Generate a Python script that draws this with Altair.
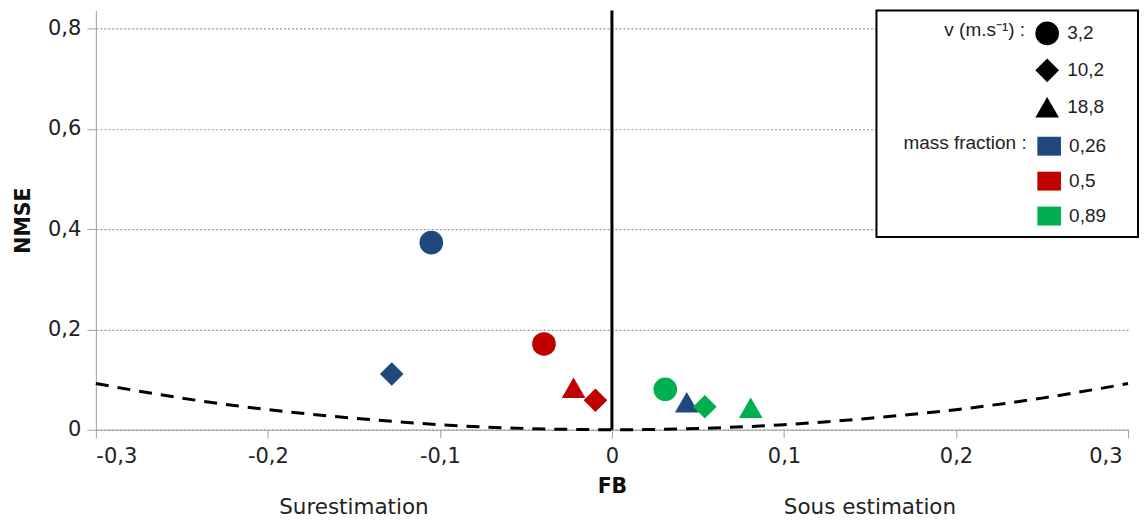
import altair as alt
import pandas as pd

# ---- data ----
fb = [-0.105, -0.128, 0.0435, -0.0395, -0.0096, -0.0223, 0.031, 0.054, 0.0807]
nmse = [0.373, 0.111, 0.0547, 0.171, 0.0587, 0.0836, 0.0806, 0.0458, 0.0438]
velocity = ["3,2", "10,2", "18,8", "3,2", "10,2", "18,8", "3,2", "10,2", "18,8"]
mass_fraction = ["0,26", "0,26", "0,26", "0,5", "0,5", "0,5", "0,89", "0,89", "0,89"]

velocity_levels = ["3,2", "10,2", "18,8"]
shape_range = ["circle", "diamond", "triangle-up"]
mass_levels = ["0,26", "0,5", "0,89"]
mass_colors = ["#1f497d", "#c00000", "#00b050"]

curve_fb = [-0.3, -0.25, -0.2, -0.15, -0.1, -0.05, 0, 0.05, 0.1, 0.15, 0.2, 0.25, 0.3]
curve_nmse = [0.092, 0.063, 0.040, 0.023, 0.010, 0.0025, 0, 0.0025, 0.010, 0.023, 0.040, 0.063, 0.092]

note_fb = [-0.15, 0.15]
note_text = ["Surestimation", "Sous estimation"]

x_ticks = [-0.3, -0.2, -0.1, 0, 0.1, 0.2, 0.3]
y_ticks = [0, 0.2, 0.4, 0.6, 0.8]

W, H = 1034, 420

points_df = pd.DataFrame(dict(FB=fb, NMSE=nmse, v=velocity, mf=mass_fraction))
curve_df = pd.DataFrame(dict(FB=curve_fb, NMSE=curve_nmse))
notes_df = pd.DataFrame(dict(FB=note_fb, label=note_text))
zero_df = pd.DataFrame(dict(FB=[0]))
box_df = pd.DataFrame(dict(a=[0]))

x_scale = alt.Scale(domain=[-0.3, 0.3], nice=False, zero=False)
y_scale = alt.Scale(domain=[0, 0.836], nice=False)
label_expr = "replace('' + datum.value, '.', ',')"

AX_FONT = "DejaVu Sans"
LEG_FONT = "Liberation Sans"
TICK_FS = 21
NOTE_FS = 21.5
TITLE_FS = 20.5
LEG_FS = 19

x_axis = alt.Axis(values=x_ticks, labelExpr=label_expr, title="FB", grid=False,
                  domainColor="#a0a0a0", tickColor="#a0a0a0", tickSize=8,
                  labelPadding=8, labelFontSize=TICK_FS, labelFont=AX_FONT, labelColor="#222",
                  labelOffset=alt.condition("datum.value > 0.25", alt.value(-6), alt.value(0)),
                  titleFont=AX_FONT, titleFontSize=TITLE_FS, titleFontWeight="bold",
                  titleColor="#111", titlePadding=10)
y_axis = alt.Axis(values=y_ticks, labelExpr=label_expr, title="NMSE", grid=True,
                  gridDash=[2, 2], gridColor="#9a9a9a", gridWidth=1.2,
                  domainColor="#a0a0a0", tickColor="#a0a0a0", tickSize=9,
                  labelPadding=6, labelFontSize=TICK_FS, labelFont=AX_FONT, labelColor="#222",
                  titleFont=AX_FONT, titleFontSize=TITLE_FS, titleFontWeight="bold",
                  titleColor="#111", titlePadding=14)

curve = alt.Chart(curve_df).mark_line(
    color="black", strokeWidth=3, strokeDash=[13, 9], interpolate="monotone"
).encode(
    x=alt.X("FB:Q", scale=x_scale, axis=x_axis),
    y=alt.Y("NMSE:Q", scale=y_scale, axis=y_axis),
)

zero_rule = alt.Chart(zero_df).mark_rule(color="black", strokeWidth=3).encode(
    x=alt.X("FB:Q", scale=x_scale)
)

box = alt.Chart(box_df).mark_rect(fill="white", stroke="black", strokeWidth=2).encode(
    x=alt.value(782), x2=alt.value(1044), y=alt.value(0), y2=alt.value(227)
)

common_legend = dict(
    orient="none", titleOrient="left", titleAnchor="start", titleBaseline="top",
    symbolSize=560, rowPadding=13, labelOffset=8, padding=0, symbolStrokeWidth=0,
    labelFont=LEG_FONT, labelFontSize=LEG_FS, labelColor="#222",
    titleFont=LEG_FONT, titleFontSize=LEG_FS, titleFontWeight="normal", titleColor="#222",
    titlePadding=10,
)

shape_legend = alt.Legend(
    title="v (m.s⁻¹) :", legendX=850, legendY=11,
    symbolFillColor="black", symbolStrokeColor="black", **common_legend,
)
color_legend = alt.Legend(
    title="mass fraction :", legendX=809, legendY=124,
    symbolType="M-1,-0.8H1V0.8H-1Z", **common_legend,
)

points = alt.Chart(points_df).mark_point(filled=True, size=560, opacity=1).encode(
    x=alt.X("FB:Q", scale=x_scale),
    y=alt.Y("NMSE:Q", scale=y_scale),
    shape=alt.Shape("v:N", scale=alt.Scale(domain=velocity_levels, range=shape_range),
                    legend=shape_legend),
    color=alt.Color("mf:N", scale=alt.Scale(domain=mass_levels, range=mass_colors),
                    legend=color_legend),
)

notes = alt.Chart(notes_df).mark_text(
    font=AX_FONT, fontSize=NOTE_FS, color="#222", baseline="middle"
).encode(
    x=alt.X("FB:Q", scale=x_scale),
    y=alt.value(498),
    text="label:N",
)

chart = alt.layer(curve, zero_rule, box, points, notes).properties(
    width=W, height=H,
    padding={"left": 5, "top": 0, "right": 0, "bottom": 0},
).configure_view(stroke=None)

chart.save("out.html", embed_options={"renderer": "svg", "actions": False})
